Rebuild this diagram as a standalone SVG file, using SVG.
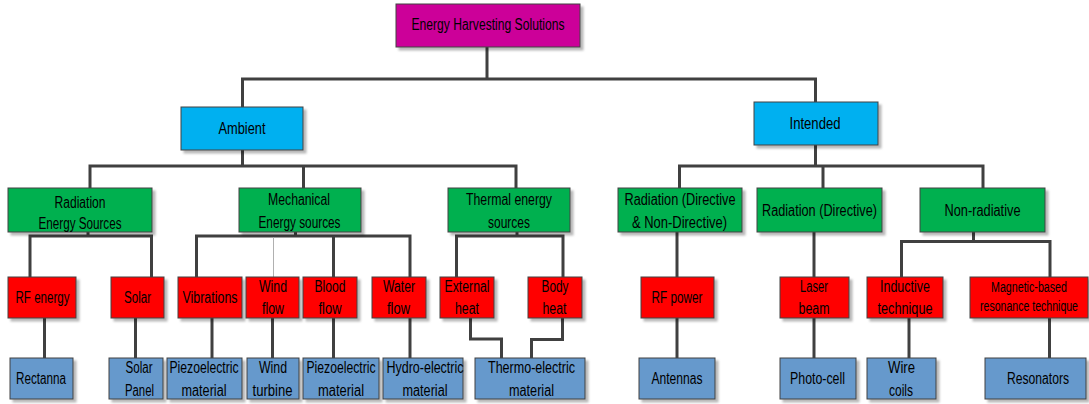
<svg xmlns="http://www.w3.org/2000/svg" width="1089" height="404" viewBox="0 0 1089 404">
  <defs>
    <filter id="shadow" x="-10%" y="-10%" width="130%" height="140%">
      <feDropShadow dx="3" dy="3" stdDeviation="1" flood-color="#000" flood-opacity="0.28"/>
    </filter>
  </defs>
  <style>
    rect { stroke: #404040; stroke-width: 1; filter: url(#shadow); }
    .root { fill: #CC0099; }
    .cat { fill: #00B0F0; }
    .src { fill: #00B050; }
    .tech { fill: #FF0000; }
    .dev { fill: #6699CC; }
    text { font-family: "Liberation Sans", Arial, sans-serif; font-size: 16px; fill: #000; text-anchor: middle; }
    text.sm { font-size: 14px; }
    .wire { fill: none; stroke: #404040; stroke-width: 3; stroke-linejoin: miter; }
    .thin { fill: none; stroke: #b0b0b0; stroke-width: 1; }
  </style>

  <!-- connectors -->
  <g id="connectors">
    <!-- root split -->
    <path class="wire" d="M487 47 V79 M242.5 107 V79 H815.5 V102"/>
    <!-- ambient split -->
    <path class="wire" d="M242.5 150 V166 M90 188 V166 H516 V188 M303.5 166 V188"/>
    <!-- intended split -->
    <path class="wire" d="M815.5 145 V166 M679.5 188 V166 H983 V188 M823 166 V188"/>
    <!-- radiation energy sources -->
    <path class="wire" d="M88 232 V236 M30 277 V236 H151.5 V277"/>
    <!-- mechanical energy sources -->
    <path class="wire" d="M295.5 232 V236 M196.5 277 V236 H410 V277 M333.5 236 V277"/>
    <path class="thin" d="M273.5 237.5 V277"/>
    <!-- thermal energy sources -->
    <path class="wire" d="M517 232 V236 M456.5 277 V236 H563 V277"/>
    <!-- intended branches -->
    <path class="wire" d="M677 232 V277"/>
    <path class="wire" d="M814 232 V277"/>
    <path class="wire" d="M973.5 232 V241.5 M901.5 277 V241.5 H1050 V277"/>
    <!-- technique to device -->
    <path class="wire" d="M44.5 318 V358"/>
    <path class="wire" d="M135.5 318 V358"/>
    <path class="wire" d="M212 318 V358"/>
    <path class="wire" d="M272.5 318 V358"/>
    <path class="wire" d="M333.5 318 V358"/>
    <path class="wire" d="M410 318 V358"/>
    <path class="wire" d="M470.5 318 V339 H501.5 V358"/>
    <path class="wire" d="M562.5 318 V339.5 H531.5 V358"/>
    <path class="wire" d="M677 318 V358"/>
    <path class="wire" d="M814 318 V358"/>
    <path class="wire" d="M909 318 V358"/>
    <path class="wire" d="M1049.5 318 V358"/>
  </g>

  <!-- top -->
  <g id="n-root"><rect class="root" x="396" y="4" width="184" height="43"/><text x="488" y="30" textLength="153" lengthAdjust="spacingAndGlyphs">Energy Harvesting Solutions</text></g>

  <!-- categories -->
  <g id="n-ambient"><rect class="cat" x="181" y="107" width="122" height="43"/><text x="242" y="134" textLength="47" lengthAdjust="spacingAndGlyphs">Ambient</text></g>
  <g id="n-intended"><rect class="cat" x="754" y="102" width="124" height="43"/><text x="815" y="129" textLength="51" lengthAdjust="spacingAndGlyphs">Intended</text></g>

  <!-- source groups -->
  <g id="n-radiation-sources"><rect class="src" x="8" y="188" width="144" height="44"/>
    <text x="80" y="208" textLength="51" lengthAdjust="spacingAndGlyphs">Radiation</text>
    <text x="80" y="229" textLength="83" lengthAdjust="spacingAndGlyphs">Energy Sources</text></g>
  <g id="n-mechanical"><rect class="src" x="239" y="188" width="122" height="44"/>
    <text x="299" y="205" textLength="62" lengthAdjust="spacingAndGlyphs">Mechanical</text>
    <text x="299.5" y="227.5" textLength="82" lengthAdjust="spacingAndGlyphs">Energy sources</text></g>
  <g id="n-thermal"><rect class="src" x="448" y="188" width="122" height="44"/>
    <text x="509" y="205" textLength="86" lengthAdjust="spacingAndGlyphs">Thermal energy</text>
    <text x="509" y="227.5" textLength="42" lengthAdjust="spacingAndGlyphs">sources</text></g>
  <g id="n-radiation-dnd"><rect class="src" x="618" y="188" width="124" height="44"/>
    <text x="680" y="205" textLength="111" lengthAdjust="spacingAndGlyphs">Radiation (Directive</text>
    <text x="679.5" y="227.5" textLength="95" lengthAdjust="spacingAndGlyphs">&amp; Non-Directive)</text></g>
  <g id="n-radiation-d"><rect class="src" x="757" y="188" width="125" height="44"/>
    <text x="819.5" y="216" textLength="115" lengthAdjust="spacingAndGlyphs">Radiation (Directive)</text></g>
  <g id="n-nonradiative"><rect class="src" x="920" y="188" width="125" height="44"/>
    <text x="982.5" y="216" textLength="76" lengthAdjust="spacingAndGlyphs">Non-radiative</text></g>

  <!-- techniques -->
  <g id="n-rf-energy"><rect class="tech" x="8" y="277" width="68" height="41"/><text x="42.5" y="302.5" textLength="54" lengthAdjust="spacingAndGlyphs">RF energy</text></g>
  <g id="n-solar"><rect class="tech" x="111" y="277" width="53" height="41"/><text x="137.5" y="302.5" textLength="27" lengthAdjust="spacingAndGlyphs">Solar</text></g>
  <g id="n-vibrations"><rect class="tech" x="178" y="277" width="64" height="41"/><text x="210" y="302.5" textLength="55" lengthAdjust="spacingAndGlyphs">Vibrations</text></g>
  <g id="n-wind-flow"><rect class="tech" x="246" y="277" width="53" height="41"/>
    <text x="273" y="292" textLength="28" lengthAdjust="spacingAndGlyphs">Wind</text>
    <text x="273" y="314" textLength="22" lengthAdjust="spacingAndGlyphs">flow</text></g>
  <g id="n-blood-flow"><rect class="tech" x="303" y="277" width="54" height="41"/>
    <text x="330" y="292" textLength="31" lengthAdjust="spacingAndGlyphs">Blood</text>
    <text x="330" y="314" textLength="23" lengthAdjust="spacingAndGlyphs">flow</text></g>
  <g id="n-water-flow"><rect class="tech" x="372" y="277" width="54" height="41"/>
    <text x="399" y="292" textLength="32" lengthAdjust="spacingAndGlyphs">Water</text>
    <text x="398.5" y="314" textLength="23" lengthAdjust="spacingAndGlyphs">flow</text></g>
  <g id="n-external-heat"><rect class="tech" x="440" y="277" width="54" height="41"/>
    <text x="467" y="292" textLength="45" lengthAdjust="spacingAndGlyphs">External</text>
    <text x="467" y="314" textLength="24" lengthAdjust="spacingAndGlyphs">heat</text></g>
  <g id="n-body-heat"><rect class="tech" x="528" y="277" width="54" height="41"/>
    <text x="555" y="292" textLength="27" lengthAdjust="spacingAndGlyphs">Body</text>
    <text x="554.5" y="314" textLength="24" lengthAdjust="spacingAndGlyphs">heat</text></g>
  <g id="n-rf-power"><rect class="tech" x="641" y="277" width="73" height="41"/><text x="677" y="302.5" textLength="51" lengthAdjust="spacingAndGlyphs">RF power</text></g>
  <g id="n-laser"><rect class="tech" x="780" y="277" width="69" height="41"/>
    <text x="814" y="292" textLength="28" lengthAdjust="spacingAndGlyphs">Laser</text>
    <text x="814" y="314" textLength="31" lengthAdjust="spacingAndGlyphs">beam</text></g>
  <g id="n-inductive"><rect class="tech" x="867" y="277" width="76" height="41"/>
    <text x="905" y="292" textLength="50" lengthAdjust="spacingAndGlyphs">Inductive</text>
    <text x="905" y="314" textLength="55" lengthAdjust="spacingAndGlyphs">technique</text></g>
  <g id="n-magnetic"><rect class="tech" x="970" y="277" width="118" height="41"/>
    <text class="sm" x="1029" y="292" textLength="76" lengthAdjust="spacingAndGlyphs">Magnetic-based</text>
    <text class="sm" x="1029" y="310.5" textLength="98" lengthAdjust="spacingAndGlyphs">resonance technique</text></g>

  <!-- devices -->
  <g id="n-rectanna"><rect class="dev" x="10" y="358" width="63" height="41"/><text x="41" y="384" textLength="50" lengthAdjust="spacingAndGlyphs">Rectanna</text></g>
  <g id="n-solar-panel"><rect class="dev" x="109" y="358" width="54" height="41"/>
    <text x="139" y="373" textLength="27" lengthAdjust="spacingAndGlyphs">Solar</text>
    <text x="139.5" y="395.5" textLength="29" lengthAdjust="spacingAndGlyphs">Panel</text></g>
  <g id="n-piezo-1"><rect class="dev" x="167" y="358" width="75" height="41"/>
    <text x="204" y="373" textLength="69" lengthAdjust="spacingAndGlyphs">Piezoelectric</text>
    <text x="204" y="395.5" textLength="45" lengthAdjust="spacingAndGlyphs">material</text></g>
  <g id="n-wind-turbine"><rect class="dev" x="247" y="358" width="52" height="41"/>
    <text x="273" y="373" textLength="28" lengthAdjust="spacingAndGlyphs">Wind</text>
    <text x="272.5" y="395.5" textLength="40" lengthAdjust="spacingAndGlyphs">turbine</text></g>
  <g id="n-piezo-2"><rect class="dev" x="303" y="358" width="76" height="41"/>
    <text x="341" y="373" textLength="69" lengthAdjust="spacingAndGlyphs">Piezoelectric</text>
    <text x="341" y="395.5" textLength="46" lengthAdjust="spacingAndGlyphs">material</text></g>
  <g id="n-hydro"><rect class="dev" x="383" y="358" width="80" height="41"/>
    <text x="425" y="373" textLength="77" lengthAdjust="spacingAndGlyphs">Hydro-electric</text>
    <text x="425" y="395.5" textLength="45" lengthAdjust="spacingAndGlyphs">material</text></g>
  <g id="n-thermo"><rect class="dev" x="475" y="358" width="110" height="41"/>
    <text x="531.5" y="373" textLength="87" lengthAdjust="spacingAndGlyphs">Thermo-electric</text>
    <text x="531.5" y="395.5" textLength="45" lengthAdjust="spacingAndGlyphs">material</text></g>
  <g id="n-antennas"><rect class="dev" x="639" y="358" width="76" height="41"/><text x="677" y="384" textLength="51" lengthAdjust="spacingAndGlyphs">Antennas</text></g>
  <g id="n-photocell"><rect class="dev" x="780" y="358" width="76" height="41"/><text x="817.5" y="384" textLength="55" lengthAdjust="spacingAndGlyphs">Photo-cell</text></g>
  <g id="n-wire-coils"><rect class="dev" x="867" y="358" width="69" height="41"/>
    <text x="901.5" y="373" textLength="27" lengthAdjust="spacingAndGlyphs">Wire</text>
    <text x="901" y="395.5" textLength="24" lengthAdjust="spacingAndGlyphs">coils</text></g>
  <g id="n-resonators"><rect class="dev" x="985" y="358" width="101" height="41"/><text x="1038" y="384" textLength="62" lengthAdjust="spacingAndGlyphs">Resonators</text></g>
</svg>
